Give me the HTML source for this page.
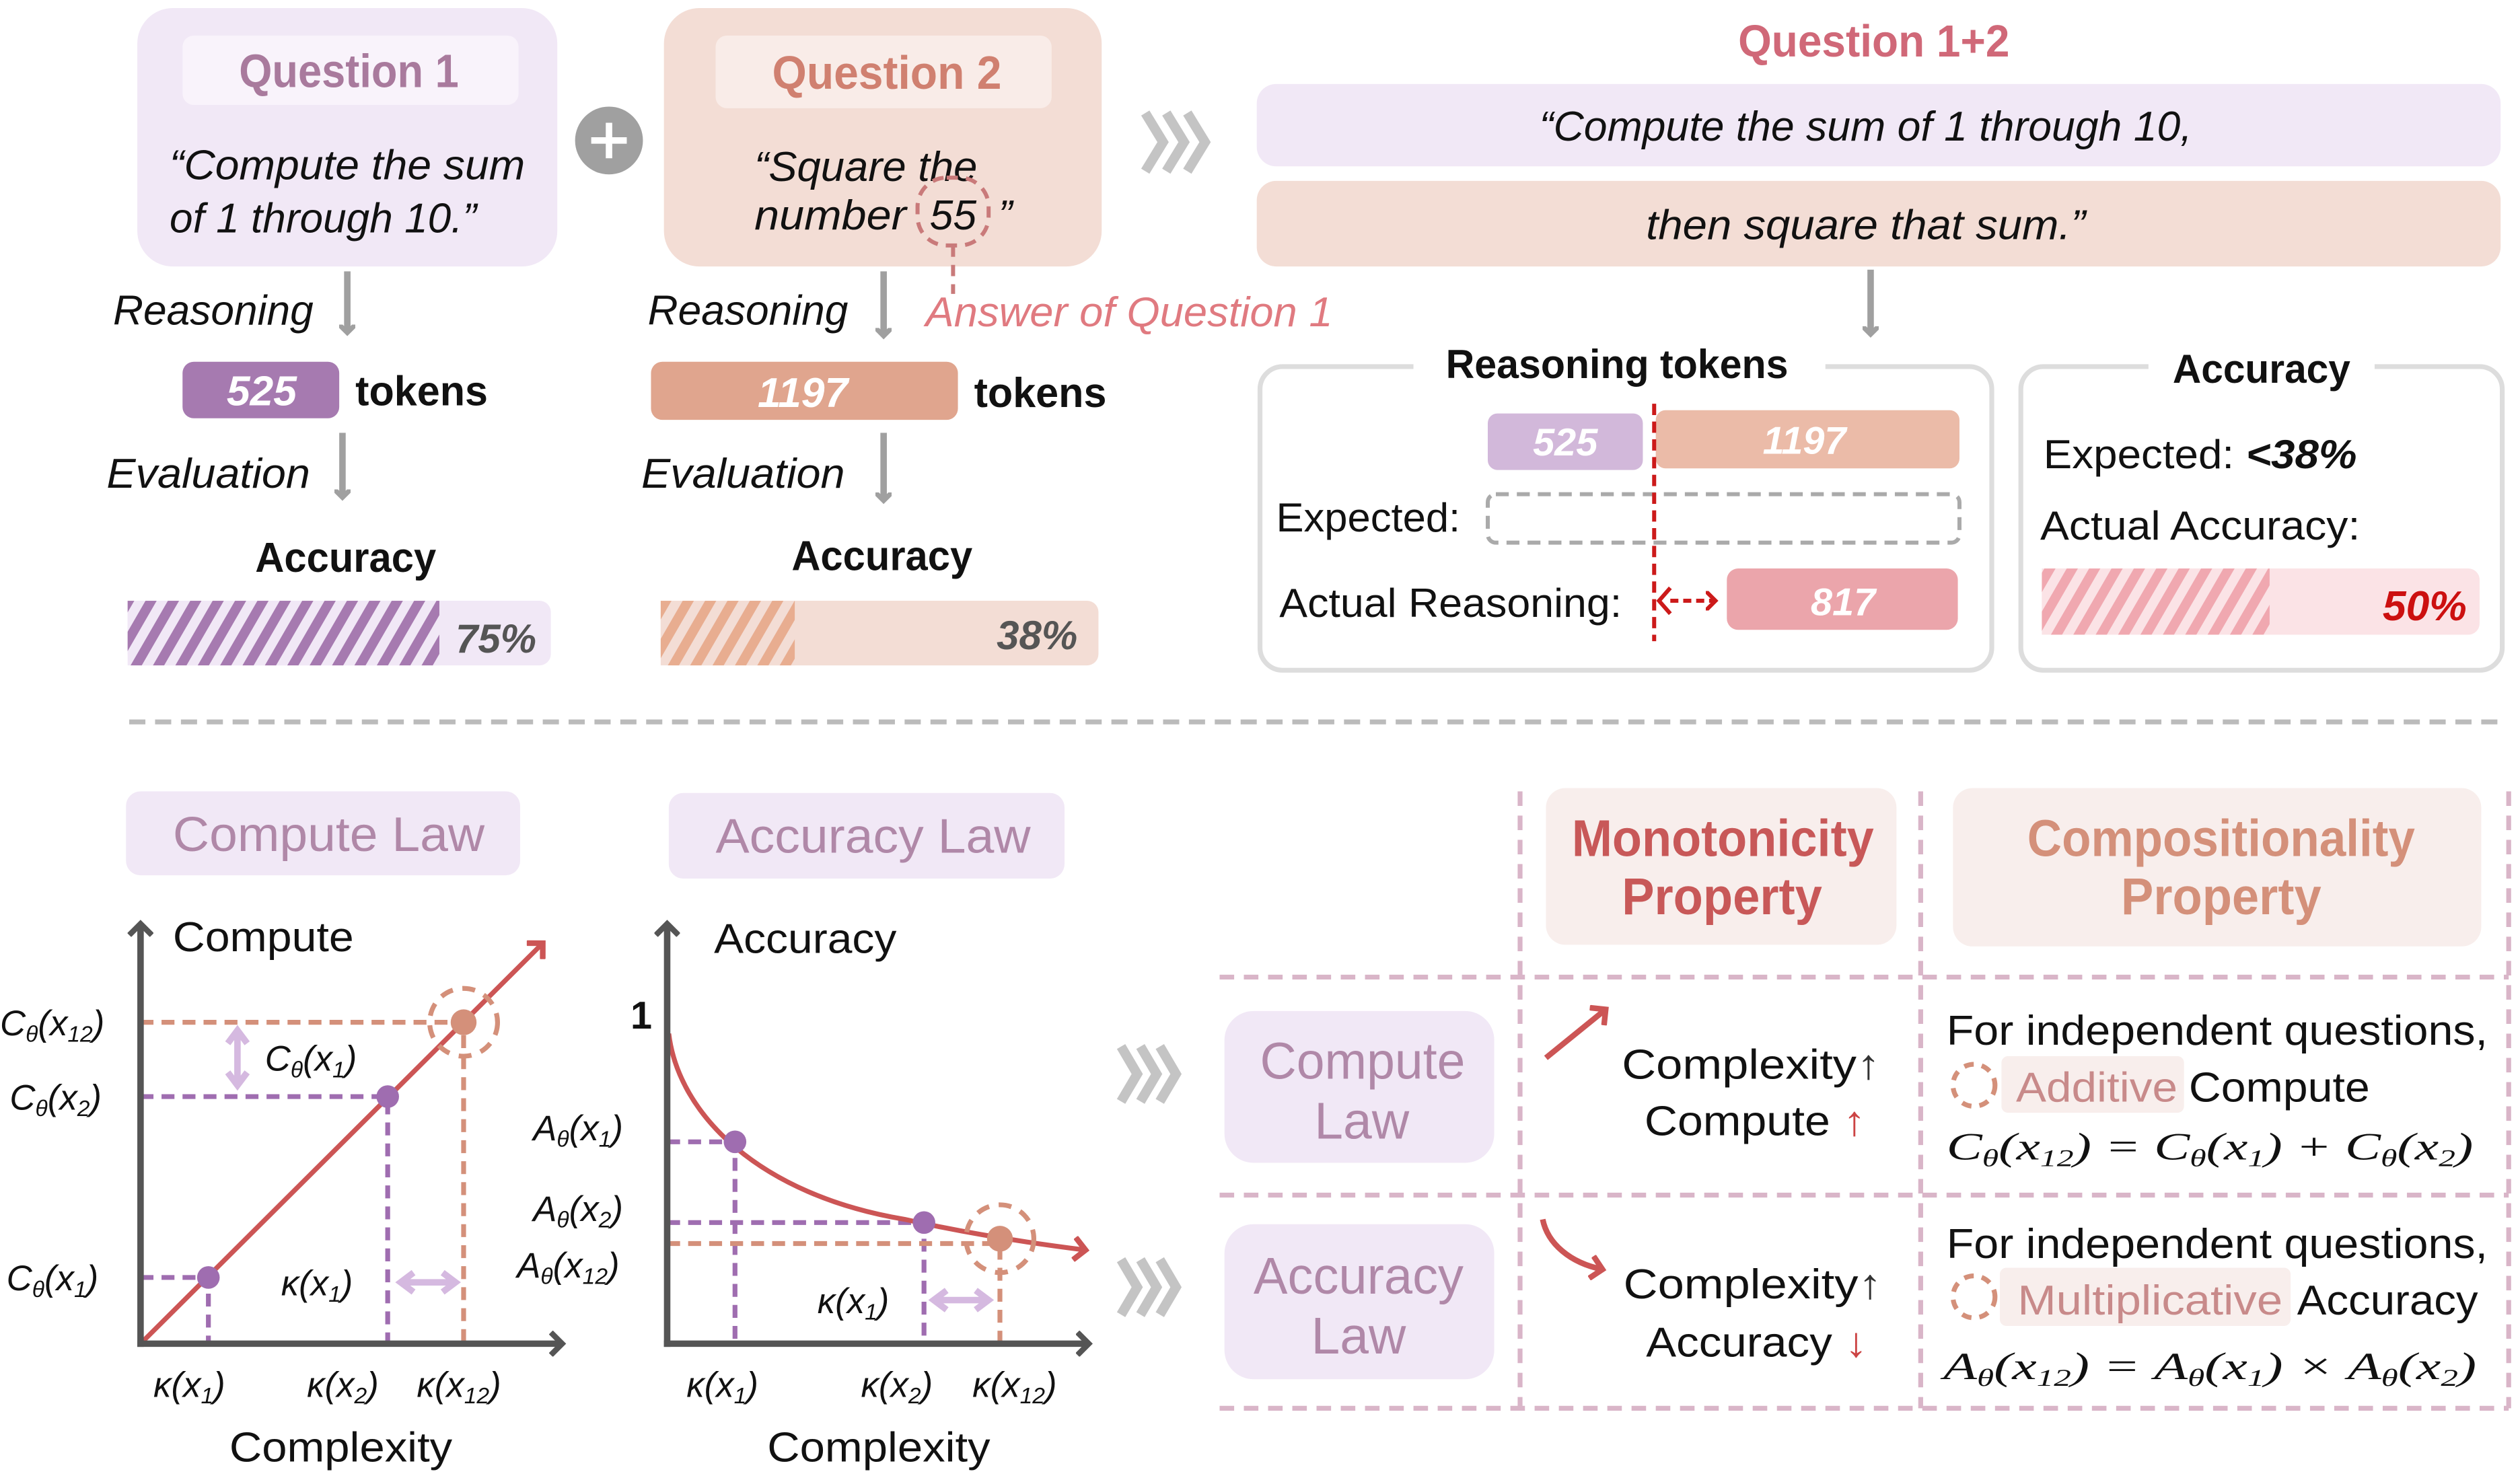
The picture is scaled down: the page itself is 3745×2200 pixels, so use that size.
<!DOCTYPE html>
<html><head><meta charset="utf-8"><style>
html,body{margin:0;padding:0;background:#fff;width:3745px;height:2200px;overflow:hidden}
svg{display:block}
text{font-family:"Liberation Sans Narrow","Liberation Sans",sans-serif}
.m{font-family:"Liberation Serif",serif;font-style:italic}
</style></head><body>
<svg width="3745" height="2200" viewBox="0 0 1560 916.4" preserveAspectRatio="none" xmlns="http://www.w3.org/2000/svg">
<defs>
<pattern id="hp" width="12" height="12" patternUnits="userSpaceOnUse" patternTransform="rotate(30)"><rect width="12" height="12" fill="#f1e8f6"/><rect width="6" height="12" fill="#a67ab0"/></pattern>
<pattern id="ho" width="12" height="12" patternUnits="userSpaceOnUse" patternTransform="rotate(30)"><rect width="12" height="12" fill="#f3ddd5"/><rect width="6" height="12" fill="#e8ad90"/></pattern>
<pattern id="hr" width="12" height="12" patternUnits="userSpaceOnUse" patternTransform="rotate(30)"><rect width="12" height="12" fill="#fbe3e6"/><rect width="6" height="12" fill="#f0a8b0"/></pattern>
<marker id="ag" markerWidth="10" markerHeight="10" refX="5" refY="5" orient="auto" markerUnits="userSpaceOnUse"><path d="M0,0 L5,5 L0,10" fill="none" stroke="#a0a0a0" stroke-width="3"/></marker>
<marker id="ad" markerWidth="16" markerHeight="16" refX="8" refY="8" orient="auto" markerUnits="userSpaceOnUse"><path d="M1,1 L8,8 L1,15" fill="none" stroke="#555" stroke-width="3.5"/></marker>
<marker id="ar" markerWidth="16" markerHeight="16" refX="8" refY="8" orient="auto" markerUnits="userSpaceOnUse"><path d="M1,1 L8,8 L1,15" fill="none" stroke="#cc5555" stroke-width="3.5"/></marker>
<marker id="ar2" markerWidth="12" markerHeight="12" refX="6" refY="6" orient="auto" markerUnits="userSpaceOnUse"><path d="M0,0 L6,6 L0,12" fill="none" stroke="#cc1a1a" stroke-width="2.5"/></marker>
</defs>

<!-- Q1 -->
<rect x="85" y="5" width="260" height="160" rx="22" fill="#f1e8f6"/>
<rect x="113" y="22" width="208" height="43" rx="7" fill="#f9f3fb"/>
<text x="148" y="54" font-size="29" font-weight="bold" fill="#a97a9d" textLength="136" lengthAdjust="spacingAndGlyphs">Question 1</text>
<text x="105" y="111" font-size="26" font-style="italic" fill="#111" textLength="220" lengthAdjust="spacingAndGlyphs">“Compute the sum</text>
<text x="105" y="144" font-size="26" font-style="italic" fill="#111" textLength="190" lengthAdjust="spacingAndGlyphs">of 1 through 10.”</text>
<circle cx="377" cy="87" r="21" fill="#a0a0a0"/>
<path d="M377,76 V98 M366,87 H388" stroke="#fff" stroke-width="4"/>
<!-- Q2 -->
<rect x="411" y="5" width="271" height="160" rx="22" fill="#f3ddd5"/>
<rect x="443" y="22" width="208" height="45" rx="7" fill="#f9ece8"/>
<text x="478" y="55" font-size="29" font-weight="bold" fill="#d08070" textLength="142" lengthAdjust="spacingAndGlyphs">Question 2</text>
<text x="467" y="112" font-size="26" font-style="italic" fill="#111" textLength="138" lengthAdjust="spacingAndGlyphs">“Square the</text>
<text x="467" y="142" font-size="26" font-style="italic" fill="#111" textLength="94" lengthAdjust="spacingAndGlyphs">number</text>
<text x="590" y="142" text-anchor="middle" font-size="26" font-style="italic" fill="#111">55</text>
<text x="618" y="142" font-size="26" font-style="italic" fill="#111">”</text>
<rect x="568" y="110" width="44" height="42" rx="18" fill="none" stroke="#c97a7a" stroke-width="2.5" stroke-dasharray="7,5"/>
<path d="M590,152 V182" stroke="#c97a7a" stroke-width="2.5" stroke-dasharray="7,5"/>
<!-- chevrons -->
<g fill="none" stroke="#c4c4c4" stroke-width="6">
<path d="M709,70 L720,88 L709,106 M722,70 L733,88 L722,106 M735,70 L746,88 L735,106"/>
<path d="M694,648 L704,665 L694,682 M706,648 L716,665 L706,682 M718,648 L728,665 L718,682"/>
<path d="M694,780 L704,797 L694,814 M706,780 L716,797 L706,814 M718,780 L728,797 L718,814"/>
</g>
<!-- Q1+2 -->
<text x="1160" y="35" text-anchor="middle" font-size="28" font-weight="bold" fill="#d06878" textLength="168" lengthAdjust="spacingAndGlyphs">Question 1+2</text>
<rect x="778" y="52" width="770" height="51" rx="12" fill="#f1e8f6"/>
<text x="1155" y="87" text-anchor="middle" font-size="26" font-style="italic" fill="#111" textLength="404" lengthAdjust="spacingAndGlyphs">“Compute the sum of 1 through 10,</text>
<rect x="778" y="112" width="770" height="53" rx="12" fill="#f3ddd5"/>
<text x="1155" y="148" text-anchor="middle" font-size="26" font-style="italic" fill="#111" textLength="272" lengthAdjust="spacingAndGlyphs">then square that sum.”</text>

<!-- arrows gray -->
<g stroke="#a0a0a0" stroke-width="4" marker-end="url(#ag)">
<path d="M215,168 V206"/><path d="M212,268 V308"/>
<path d="M547,168 V208"/><path d="M547,268 V310"/>
<path d="M1158,167 V207"/>
</g>
<text x="70" y="201" font-size="26" font-style="italic" fill="#111" textLength="124" lengthAdjust="spacingAndGlyphs">Reasoning</text>
<text x="66" y="302" font-size="26" font-style="italic" fill="#111" textLength="126" lengthAdjust="spacingAndGlyphs">Evaluation</text>
<rect x="113" y="224" width="97" height="35" rx="7" fill="#a67ab0"/>
<text x="162" y="251" text-anchor="middle" font-size="26" font-weight="bold" font-style="italic" fill="#fff">525</text>
<text x="220" y="251" font-size="26" font-weight="bold" fill="#111" textLength="82" lengthAdjust="spacingAndGlyphs">tokens</text>
<text x="158" y="354" font-size="26" font-weight="bold" fill="#111" textLength="112" lengthAdjust="spacingAndGlyphs">Accuracy</text>
<rect x="79" y="372" width="262" height="40" rx="7" fill="#f1e8f6"/>
<rect x="79" y="372" width="193" height="40" fill="url(#hp)"/>
<text x="307" y="404" text-anchor="middle" font-size="25" font-weight="bold" font-style="italic" fill="#555">75%</text>

<text x="401" y="201" font-size="26" font-style="italic" fill="#111" textLength="124" lengthAdjust="spacingAndGlyphs">Reasoning</text>
<text x="573" y="202" font-size="26" font-style="italic" fill="#e07a80" textLength="252" lengthAdjust="spacingAndGlyphs">Answer of Question 1</text>
<text x="397" y="302" font-size="26" font-style="italic" fill="#111" textLength="126" lengthAdjust="spacingAndGlyphs">Evaluation</text>
<rect x="403" y="224" width="190" height="36" rx="7" fill="#e0a58e"/>
<text x="497" y="252" text-anchor="middle" font-size="26" font-weight="bold" font-style="italic" fill="#fff">1197</text>
<text x="603" y="252" font-size="26" font-weight="bold" fill="#111" textLength="82" lengthAdjust="spacingAndGlyphs">tokens</text>
<text x="490" y="353" font-size="26" font-weight="bold" fill="#111" textLength="112" lengthAdjust="spacingAndGlyphs">Accuracy</text>
<rect x="409" y="372" width="271" height="40" rx="7" fill="#f3ddd5"/>
<rect x="409" y="372" width="83" height="40" fill="url(#ho)"/>
<text x="642" y="402" text-anchor="middle" font-size="25" font-weight="bold" font-style="italic" fill="#555">38%</text>

<!-- reasoning tokens panel -->
<rect x="780" y="227" width="453" height="188" rx="14" fill="none" stroke="#ddd" stroke-width="3"/>
<rect x="875" y="212" width="255" height="30" fill="#fff"/>
<text x="895" y="234" font-size="25" font-weight="bold" fill="#111" textLength="212" lengthAdjust="spacingAndGlyphs">Reasoning tokens</text>
<rect x="921" y="256" width="96" height="35" rx="6" fill="#d2b8da"/>
<text x="969" y="282" text-anchor="middle" font-size="24" font-weight="bold" font-style="italic" fill="#fff">525</text>
<rect x="1025" y="254" width="188" height="36" rx="6" fill="#ebbba8"/>
<text x="1117" y="281" text-anchor="middle" font-size="24" font-weight="bold" font-style="italic" fill="#fff">1197</text>
<text x="790" y="329" font-size="25" fill="#111" textLength="114" lengthAdjust="spacingAndGlyphs">Expected:</text>
<rect x="921" y="306" width="292" height="30" rx="5" fill="none" stroke="#aaa" stroke-width="2.5" stroke-dasharray="8,5"/>
<text x="792" y="382" font-size="25" fill="#111" textLength="212" lengthAdjust="spacingAndGlyphs">Actual Reasoning:</text>
<path d="M1024,250 V397" stroke="#cc1a1a" stroke-width="2.5" stroke-dasharray="7,4"/>
<path d="M1034,372 H1062" stroke="#cc1a1a" stroke-width="2.5" stroke-dasharray="5,3" marker-end="url(#ar2)"/>
<path d="M1034,364 L1027,372 L1034,380" fill="none" stroke="#cc1a1a" stroke-width="2.5"/>
<rect x="1069" y="352" width="143" height="38" rx="7" fill="#eba5ab"/>
<text x="1141" y="381" text-anchor="middle" font-size="24" font-weight="bold" font-style="italic" fill="#fff">817</text>

<!-- accuracy panel -->
<rect x="1251" y="227" width="298" height="188" rx="14" fill="none" stroke="#ddd" stroke-width="3"/>
<rect x="1330" y="212" width="140" height="30" fill="#fff"/>
<text x="1345" y="237" font-size="25" font-weight="bold" fill="#111" textLength="110" lengthAdjust="spacingAndGlyphs">Accuracy</text>
<text x="1265" y="290" font-size="25" fill="#111" textLength="194" lengthAdjust="spacingAndGlyphs">Expected: <tspan font-weight="bold" font-style="italic">&lt;38%</tspan></text>
<text x="1263" y="334" font-size="25" fill="#111" textLength="198" lengthAdjust="spacingAndGlyphs">Actual Accuracy:</text>
<rect x="1264" y="352" width="271" height="41" rx="7" fill="#fbe3e6"/>
<rect x="1264" y="352" width="141" height="41" fill="url(#hr)"/>
<text x="1527" y="384" text-anchor="end" font-size="26" font-weight="bold" font-style="italic" fill="#cc1010">50%</text>

<!-- divider -->
<path d="M80,447 H1552" stroke="#bbb" stroke-width="3" stroke-dasharray="10,6"/>

<!-- laws labels -->
<rect x="78" y="490" width="244" height="52" rx="9" fill="#f1e8f6"/>
<text x="107" y="527" font-size="30" fill="#b088a8" textLength="193" lengthAdjust="spacingAndGlyphs">Compute Law</text>
<rect x="414" y="491" width="245" height="53" rx="9" fill="#f1e8f6"/>
<text x="443" y="528" font-size="30" fill="#b088a8" textLength="195" lengthAdjust="spacingAndGlyphs">Accuracy Law</text>

<!-- chart 1 -->
<g stroke-width="3" stroke-dasharray="8,5" fill="none">
<path d="M87,791 H129 V832" stroke="#9f6db0"/>
<path d="M87,679 H240 V832" stroke="#9f6db0"/>
<path d="M87,633 H287 V832" stroke="#d4907a"/>
</g>
<path d="M87,832 L336,584" stroke="#cc5555" stroke-width="3" marker-end="url(#ar)"/>
<path d="M87,834 V572" stroke="#555" stroke-width="4" marker-end="url(#ad)"/>
<path d="M85,832 H348" stroke="#555" stroke-width="4" marker-end="url(#ad)"/>
<circle cx="129" cy="791" r="7" fill="#9f6db0"/>
<circle cx="240" cy="679" r="7" fill="#9f6db0"/>
<circle cx="287" cy="633" r="8" fill="#d4907a"/>
<circle cx="287" cy="633" r="21" fill="none" stroke="#d4907a" stroke-width="3" stroke-dasharray="8,6"/>
<path d="M147,640 V670 M141,646 L147,638 L153,646 M141,664 L147,672 L153,664" stroke="#d5b9e0" stroke-width="4" fill="none"/>
<path d="M250,794 H280 M256,788 L248,794 L256,800 M274,788 L282,794 L274,800" stroke="#d5b9e0" stroke-width="4" fill="none"/>
<text x="107" y="589" font-size="26" fill="#111" textLength="112" lengthAdjust="spacingAndGlyphs">Compute</text>
<text x="142" y="905" font-size="26" fill="#111" textLength="138" lengthAdjust="spacingAndGlyphs">Complexity</text>
<g class="m" font-size="22" fill="#111">
<text x="0" y="641">C<tspan font-size="14" dy="4">θ</tspan><tspan dy="-4">(x</tspan><tspan font-size="14" dy="4">12</tspan><tspan dy="-4">)</tspan></text>
<text x="6" y="687">C<tspan font-size="14" dy="4">θ</tspan><tspan dy="-4">(x</tspan><tspan font-size="14" dy="4">2</tspan><tspan dy="-4">)</tspan></text>
<text x="4" y="799">C<tspan font-size="14" dy="4">θ</tspan><tspan dy="-4">(x</tspan><tspan font-size="14" dy="4">1</tspan><tspan dy="-4">)</tspan></text>
<text x="164" y="663">C<tspan font-size="14" dy="4">θ</tspan><tspan dy="-4">(x</tspan><tspan font-size="14" dy="4">1</tspan><tspan dy="-4">)</tspan></text>
<text x="174" y="802">κ(x<tspan font-size="14" dy="4">1</tspan><tspan dy="-4">)</tspan></text>
<text x="95" y="865">κ(x<tspan font-size="14" dy="4">1</tspan><tspan dy="-4">)</tspan></text>
<text x="190" y="865">κ(x<tspan font-size="14" dy="4">2</tspan><tspan dy="-4">)</tspan></text>
<text x="258" y="865">κ(x<tspan font-size="14" dy="4">12</tspan><tspan dy="-4">)</tspan></text>
</g>

<!-- chart 2 -->
<g stroke-width="3" stroke-dasharray="8,5" fill="none">
<path d="M413,707 H455 V832" stroke="#9f6db0"/>
<path d="M413,757 H572 V832" stroke="#9f6db0"/>
<path d="M413,770 H619 V832" stroke="#d4907a"/>
</g>
<path d="M414,640 C420,690 470,740 560,755 C600,764 640,770 672,774" stroke="#cc5555" stroke-width="3" fill="none" marker-end="url(#ar)"/>
<path d="M413,834 V572" stroke="#555" stroke-width="4" marker-end="url(#ad)"/>
<path d="M411,832 H674" stroke="#555" stroke-width="4" marker-end="url(#ad)"/>
<circle cx="455" cy="707" r="7" fill="#9f6db0"/>
<circle cx="572" cy="757" r="7" fill="#9f6db0"/>
<circle cx="619" cy="767" r="8" fill="#d4907a"/>
<circle cx="619" cy="767" r="21" fill="none" stroke="#d4907a" stroke-width="3" stroke-dasharray="8,6"/>
<path d="M580,805 H610 M586,799 L578,805 L586,811 M604,799 L612,805 L604,811" stroke="#d5b9e0" stroke-width="4" fill="none"/>
<text x="442" y="590" font-size="26" fill="#111" textLength="113" lengthAdjust="spacingAndGlyphs">Accuracy</text>
<text x="397" y="637" text-anchor="middle" font-size="24" font-weight="bold" fill="#111">1</text>
<text x="475" y="905" font-size="26" fill="#111" textLength="138" lengthAdjust="spacingAndGlyphs">Complexity</text>
<g class="m" font-size="22" fill="#111">
<text x="330" y="706">A<tspan font-size="14" dy="4">θ</tspan><tspan dy="-4">(x</tspan><tspan font-size="14" dy="4">1</tspan><tspan dy="-4">)</tspan></text>
<text x="330" y="756">A<tspan font-size="14" dy="4">θ</tspan><tspan dy="-4">(x</tspan><tspan font-size="14" dy="4">2</tspan><tspan dy="-4">)</tspan></text>
<text x="320" y="791">A<tspan font-size="14" dy="4">θ</tspan><tspan dy="-4">(x</tspan><tspan font-size="14" dy="4">12</tspan><tspan dy="-4">)</tspan></text>
<text x="506" y="813">κ(x<tspan font-size="14" dy="4">1</tspan><tspan dy="-4">)</tspan></text>
<text x="425" y="865">κ(x<tspan font-size="14" dy="4">1</tspan><tspan dy="-4">)</tspan></text>
<text x="533" y="865">κ(x<tspan font-size="14" dy="4">2</tspan><tspan dy="-4">)</tspan></text>
<text x="602" y="865">κ(x<tspan font-size="14" dy="4">12</tspan><tspan dy="-4">)</tspan></text>
</g>

<!-- table -->
<g stroke="#d9b5c8" stroke-width="3" stroke-dasharray="9,6" fill="none">
<path d="M941,490 V872 M1189,490 V872 M1553,490 V872"/>
<path d="M755,605 H1553 M755,740 H1553 M755,872 H1553"/>
</g>
<rect x="957" y="488" width="217" height="97" rx="12" fill="#f8eeec"/>
<text x="973" y="530" font-size="32" font-weight="bold" fill="#c85858" textLength="187" lengthAdjust="spacingAndGlyphs">Monotonicity</text>
<text x="1004" y="566" font-size="32" font-weight="bold" fill="#c85858" textLength="124" lengthAdjust="spacingAndGlyphs">Property</text>
<rect x="1209" y="488" width="327" height="98" rx="12" fill="#f8eeec"/>
<text x="1255" y="530" font-size="32" font-weight="bold" fill="#d4907a" textLength="240" lengthAdjust="spacingAndGlyphs">Compositionality</text>
<text x="1313" y="566" font-size="32" font-weight="bold" fill="#d4907a" textLength="124" lengthAdjust="spacingAndGlyphs">Property</text>
<rect x="758" y="626" width="167" height="94" rx="18" fill="#f1e8f6"/>
<text x="780" y="668" font-size="32" fill="#b088a8" textLength="127" lengthAdjust="spacingAndGlyphs">Compute</text>
<text x="843" y="705" text-anchor="middle" font-size="32" fill="#b088a8">Law</text>
<rect x="758" y="758" width="167" height="96" rx="18" fill="#f1e8f6"/>
<text x="776" y="801" font-size="32" fill="#b088a8" textLength="130" lengthAdjust="spacingAndGlyphs">Accuracy</text>
<text x="841" y="838" text-anchor="middle" font-size="32" fill="#b088a8">Law</text>

<path d="M957,655 L994,625" stroke="#cc5555" stroke-width="3.5" marker-end="url(#ar)"/>
<path d="M955,755 C958,770 972,782 992,786" stroke="#cc5555" stroke-width="3.5" fill="none" marker-end="url(#ar)"/>
<text x="1004" y="668" font-size="26" fill="#111" textLength="160" lengthAdjust="spacingAndGlyphs">Complexity<tspan fill="#333">↑</tspan></text>
<text x="1018" y="703" font-size="26" fill="#111" textLength="137" lengthAdjust="spacingAndGlyphs">Compute <tspan fill="#cc4444">↑</tspan></text>
<text x="1005" y="804" font-size="26" fill="#111" textLength="160" lengthAdjust="spacingAndGlyphs">Complexity<tspan fill="#333">↑</tspan></text>
<text x="1019" y="840" font-size="26" fill="#111" textLength="137" lengthAdjust="spacingAndGlyphs">Accuracy <tspan fill="#cc4444">↓</tspan></text>

<text x="1205" y="647" font-size="26" fill="#111" textLength="335" lengthAdjust="spacingAndGlyphs">For independent questions,</text>
<circle cx="1222" cy="672" r="13" fill="none" stroke="#d4907a" stroke-width="3" stroke-dasharray="6,5"/>
<rect x="1239" y="654" width="113" height="35" rx="4" fill="#f8eeec"/>
<text x="1248" y="682" font-size="26" fill="#c88a8a" textLength="100" lengthAdjust="spacingAndGlyphs">Additive</text>
<text x="1355" y="682" font-size="26" fill="#111" textLength="112" lengthAdjust="spacingAndGlyphs">Compute</text>
<text class="m" x="1205" y="718" font-size="24" fill="#111" textLength="326" lengthAdjust="spacingAndGlyphs">C<tspan font-size="15" dy="4">θ</tspan><tspan dy="-4">(x</tspan><tspan font-size="15" dy="4">12</tspan><tspan dy="-4">) = C</tspan><tspan font-size="15" dy="4">θ</tspan><tspan dy="-4">(x</tspan><tspan font-size="15" dy="4">1</tspan><tspan dy="-4">) + C</tspan><tspan font-size="15" dy="4">θ</tspan><tspan dy="-4">(x</tspan><tspan font-size="15" dy="4">2</tspan><tspan dy="-4">)</tspan></text>

<text x="1205" y="779" font-size="26" fill="#111" textLength="335" lengthAdjust="spacingAndGlyphs">For independent questions,</text>
<circle cx="1222" cy="803" r="13" fill="none" stroke="#d4907a" stroke-width="3" stroke-dasharray="6,5"/>
<rect x="1238" y="785" width="180" height="36" rx="4" fill="#f8eeec"/>
<text x="1249" y="814" font-size="26" fill="#c88a8a" textLength="164" lengthAdjust="spacingAndGlyphs">Multiplicative</text>
<text x="1422" y="814" font-size="26" fill="#111" textLength="112" lengthAdjust="spacingAndGlyphs">Accuracy</text>
<text class="m" x="1203" y="854" font-size="24" fill="#111" textLength="330" lengthAdjust="spacingAndGlyphs">A<tspan font-size="15" dy="4">θ</tspan><tspan dy="-4">(x</tspan><tspan font-size="15" dy="4">12</tspan><tspan dy="-4">) = A</tspan><tspan font-size="15" dy="4">θ</tspan><tspan dy="-4">(x</tspan><tspan font-size="15" dy="4">1</tspan><tspan dy="-4">) × A</tspan><tspan font-size="15" dy="4">θ</tspan><tspan dy="-4">(x</tspan><tspan font-size="15" dy="4">2</tspan><tspan dy="-4">)</tspan></text>
</svg>
</body></html>
